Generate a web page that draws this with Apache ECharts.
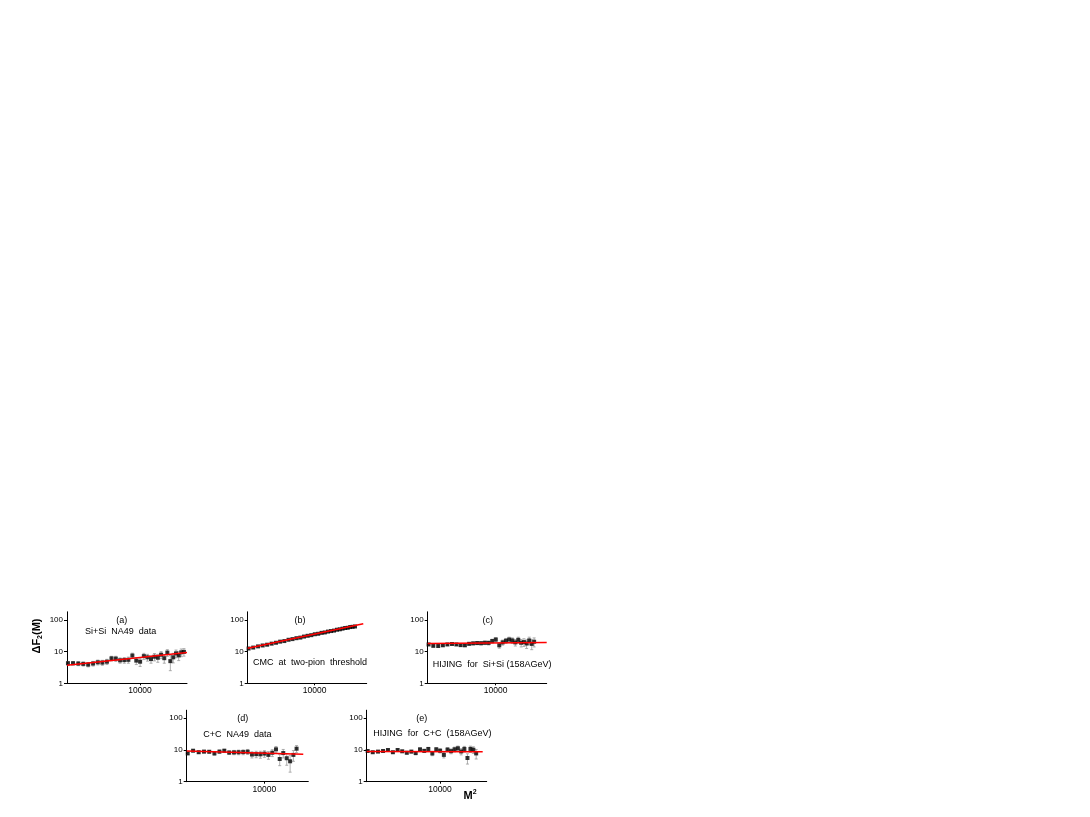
<!DOCTYPE html>
<html>
<head>
<meta charset="utf-8">
<script src="https://cdn.jsdelivr.net/npm/echarts@6/dist/echarts.min.js"></script>
<style>
  html, body { margin: 0; padding: 0; background: #fff; }
  #main { width: 1090px; height: 817px; }
</style>
</head>
<body>
<div id="main"></div>
<script>
// M^2 bins (shared x positions)
var m2 = [1780, 2010, 2280, 2570, 2890, 3250, 3640, 4060, 4530, 5050, 5600, 6210, 6870, 7570, 8330, 9150,
    10030, 10970, 11970, 13020, 14150, 15330, 16580, 17890, 19260, 20690, 22170, 23710, 25290, 26900, 28660];

var xTicks = [10000];
var yTicks = [1, 10, 100];

// (a) Si+Si NA49 data
var fa = [4.3, 4.3, 4.2, 4.1, 3.9, 4.2, 4.6, 4.5, 4.8, 6.1, 6.0, 5.3, 5.4, 5.5, 7.5, 5.2, 4.8, 7.2, 6.6, 5.8,
    6.9, 6.4, 8.0, 6.2, 9.3, 5.0, 6.6, 8.8, 7.6, 9.5, 9.8];
var ea = [0.5, 0.5, 0.6, 0.6, 0.6, 0.7, 0.8, 0.8, 0.9, 1.0, 1.1, 1.0, 1.1, 1.2, 1.4, 1.3, 1.4, 1.6, 1.6, 1.5,
    1.8, 1.8, 2.0, 1.9, 2.2, 2.5, 2.2, 2.4, 2.4, 2.6, 2.6];
var fitA = [[1740, 3.7], [30840, 9.3]];

// (b) CMC at two-pion threshold
var fb = [12.5, 13.4, 14.6, 15.6, 16.5, 17.8, 19.0, 20.6, 21.5, 23.6, 24.8, 26.5, 27.6, 29.8, 31.5, 33.0,
    35.3, 36.5, 39.0, 40.2, 42.8, 44.5, 46.0, 49.0, 50.5, 53.0, 55.5, 56.5, 59.5, 60.5, 62.0];
var eb = [0.6, 0.6, 0.7, 0.7, 0.8, 0.8, 0.9, 0.9, 1.0, 1.1, 1.1, 1.2, 1.3, 1.4, 1.4, 1.5, 1.6, 1.7, 1.8, 1.9,
    2.0, 2.1, 2.2, 2.3, 2.5, 2.6, 2.7, 2.8, 3.0, 3.2, 3.4];
var fitB = [[1740, 12.7], [35560, 76]];

// (c) HIJING for Si+Si
var fc = [16.8, 15.2, 15.0, 15.8, 16.8, 17.4, 16.8, 16.0, 15.8, 17.6, 18.2, 18.6, 18.4, 19.0, 18.8, 21.5,
    24.0, 15.8, 19.5, 22.0, 24.0, 22.5, 19.5, 23.5, 19.0, 20.0, 18.0, 22.5, 17.5, 20.5];
var ec = [1.0, 1.0, 1.0, 1.1, 1.1, 1.2, 1.2, 1.3, 1.4, 1.6, 1.8, 2.0, 2.2, 2.4, 2.6, 3.0, 3.5, 3.0, 3.5, 4.0,
    4.5, 4.5, 4.5, 5.0, 5.0, 5.5, 5.5, 6.0, 6.0, 6.5];
var fitC = [[1740, 17.9], [37170, 19.2]];

// (d) C+C NA49 data
var fd = [7.8, 9.5, 8.5, 8.9, 8.8, 7.8, 8.9, 9.5, 8.3, 8.4, 8.5, 8.6, 8.8, 7.2, 7.4, 7.3, 7.7, 7.0, 8.2, 10.5,
    5.2, 8.0, 5.5, 4.4, 7.0, 11.0];
var ed = [0.6, 0.7, 0.7, 0.8, 0.8, 0.9, 1.0, 1.0, 1.1, 1.3, 1.4, 1.5, 1.6, 1.6, 1.7, 1.8, 1.8, 1.9, 2.0, 2.4,
    2.0, 2.4, 2.2, 2.4, 2.6, 2.8];
var fitD = [[1740, 9.3], [24060, 7.3]];

// (e) HIJING for C+C
var fe = [9.3, 8.5, 8.9, 9.3, 10.0, 8.5, 10.0, 9.1, 8.2, 8.9, 8.0, 10.5, 9.4, 10.8, 7.8, 10.5, 9.5, 7.0, 10.3,
    9.2, 10.5, 11.3, 9.0, 10.8, 5.6, 10.8, 10.2, 7.8];
var ee = [0.5, 0.5, 0.5, 0.6, 0.6, 0.6, 0.7, 0.7, 0.8, 0.8, 0.9, 1.0, 1.0, 1.1, 1.2, 1.3, 1.4, 1.4, 1.5, 1.6,
    1.8, 2.0, 2.0, 2.2, 2.0, 2.4, 2.4, 2.6];
var fitE = [[1740, 9.0], [27700, 8.8]];

var FONT = '"Liberation Sans", Arial, sans-serif';

var panels = [
    { f: fa, e: ea, fit: fitA, left: 67, bottom: 683.3, width: 120, xmax: 30840 },
    { f: fb, e: eb, fit: fitB, left: 247.7, bottom: 683.3, width: 119, xmax: 38880 },
    { f: fc, e: ec, fit: fitC, left: 427.7, bottom: 683.3, width: 119, xmax: 37170 },
    { f: fd, e: ed, fit: fitD, left: 186.7, bottom: 781.7, width: 121.6, xmax: 26950 },
    { f: fe, e: ee, fit: fitE, left: 366.7, bottom: 781.7, width: 120, xmax: 30480 }
];

var grids = [], xAxes = [], yAxes = [], series = [];

function errBar(params, api) {
    var x = api.value(0), y = api.value(1), err = api.value(2);
    var lo = Math.max(y - err, 1.01);
    var p1 = api.coord([x, lo]);
    var p2 = api.coord([x, y + err]);
    var st = { stroke: '#9a9a9a', lineWidth: 0.8 };
    return {
        type: 'group',
        children: [
            { type: 'line', shape: { x1: p1[0], y1: p1[1], x2: p2[0], y2: p2[1] }, style: st },
            { type: 'line', shape: { x1: p1[0] - 1.5, y1: p1[1], x2: p1[0] + 1.5, y2: p1[1] }, style: st },
            { type: 'line', shape: { x1: p2[0] - 1.5, y1: p2[1], x2: p2[0] + 1.5, y2: p2[1] }, style: st }
        ]
    };
}

function plainNum(v) {
    return String(Math.round(v));
}

for (var i = 0; i < panels.length; i++) {
    var p = panels[i];
    grids.push({
        left: p.left, top: p.bottom - 71.5, width: p.width, height: 71.5,
        outerBoundsMode: 'none'
    });
    xAxes.push({
        type: 'log', logBase: 10, gridIndex: i, min: 1740, max: p.xmax,
        axisLine: { lineStyle: { color: '#000', width: 1 } },
        axisTick: { show: true, customValues: xTicks, length: 2, lineStyle: { color: '#000' } },
        axisLabel: { customValues: xTicks, formatter: plainNum, color: '#000', fontSize: 8.5, fontFamily: FONT, margin: 3 },
        splitLine: { show: false },
        minorTick: { show: false }
    });
    yAxes.push({
        type: 'log', logBase: 10, gridIndex: i, min: 1, max: 180,
        axisLine: { show: true, lineStyle: { color: '#000', width: 1 } },
        axisTick: { show: true, customValues: yTicks, length: 3, lineStyle: { color: '#000' } },
        axisLabel: { customValues: yTicks, formatter: plainNum, color: '#000', fontSize: 8, fontFamily: FONT, margin: 4 },
        splitLine: { show: false }
    });
    var pts = [], bars = [];
    for (var k = 0; k < p.f.length; k++) {
        pts.push([m2[k], p.f[k]]);
        bars.push([m2[k], p.f[k], p.e[k]]);
    }
    series.push({
        type: 'custom', xAxisIndex: i, yAxisIndex: i, renderItem: errBar,
        data: bars, encode: { x: 0, y: 1 }, z: 1, silent: true
    });
    series.push({
        type: 'scatter', xAxisIndex: i, yAxisIndex: i, data: pts,
        symbol: 'rect', symbolSize: 4, itemStyle: { color: '#000' }, z: 2
    });
    series.push({
        type: 'line', xAxisIndex: i, yAxisIndex: i, data: p.fit,
        symbol: 'none', lineStyle: { color: '#ff0000', width: 1.5 }, z: 3
    });
}

function label(x, y, text) {
    return {
        type: 'text', x: x, y: y,
        style: { text: text, font: '9px ' + FONT, fill: '#000', align: 'left', verticalAlign: 'middle' }
    };
}
function centered(x, y, text) {
    return {
        type: 'text', x: x, y: y,
        style: { text: text, font: '9px ' + FONT, fill: '#000', align: 'center', verticalAlign: 'middle' }
    };
}

var myChart = echarts.init(document.getElementById('main'));
var option = {
    animation: false,
    backgroundColor: '#fff',
    grid: grids,
    xAxis: xAxes,
    yAxis: yAxes,
    series: series,
    graphic: [
        centered(121.7, 620.7, '(a)'),
        label(85, 632, 'Si+Si  NA49  data'),
        centered(300, 620.7, '(b)'),
        label(253, 663, 'CMC  at  two-pion  threshold'),
        centered(487.7, 620.7, '(c)'),
        label(432.7, 664.3, 'HIJING  for  Si+Si (158AGeV)'),
        centered(242.7, 718.3, '(d)'),
        label(203.3, 735, 'C+C  NA49  data'),
        centered(421.7, 718.3, '(e)'),
        label(373.3, 733.3, 'HIJING  for  C+C  (158AGeV)'),
        {
            type: 'text', x: 37, y: 636, rotation: Math.PI / 2,
            style: {
                text: '{a|\u0394F}{s|2}{a|(M)}',
                align: 'center', verticalAlign: 'middle', fill: '#000',
                rich: {
                    a: { fontSize: 11, fontWeight: 'bold', fontFamily: FONT, lineHeight: 14, verticalAlign: 'middle' },
                    s: { fontSize: 7, fontWeight: 'bold', fontFamily: FONT, lineHeight: 14, verticalAlign: 'bottom' }
                }
            }
        },
        {
            type: 'text', x: 470, y: 796,
            style: {
                text: '{a|M}{p|2}',
                align: 'center', verticalAlign: 'middle', fill: '#000',
                rich: {
                    a: { fontSize: 11, fontWeight: 'bold', fontFamily: FONT, lineHeight: 14, verticalAlign: 'middle' },
                    p: { fontSize: 7, fontWeight: 'bold', fontFamily: FONT, lineHeight: 14, verticalAlign: 'top' }
                }
            }
        }
    ]
};
myChart.setOption(option);
window.addEventListener('resize', function () { myChart.resize(); })
</script>
</body>
</html>
